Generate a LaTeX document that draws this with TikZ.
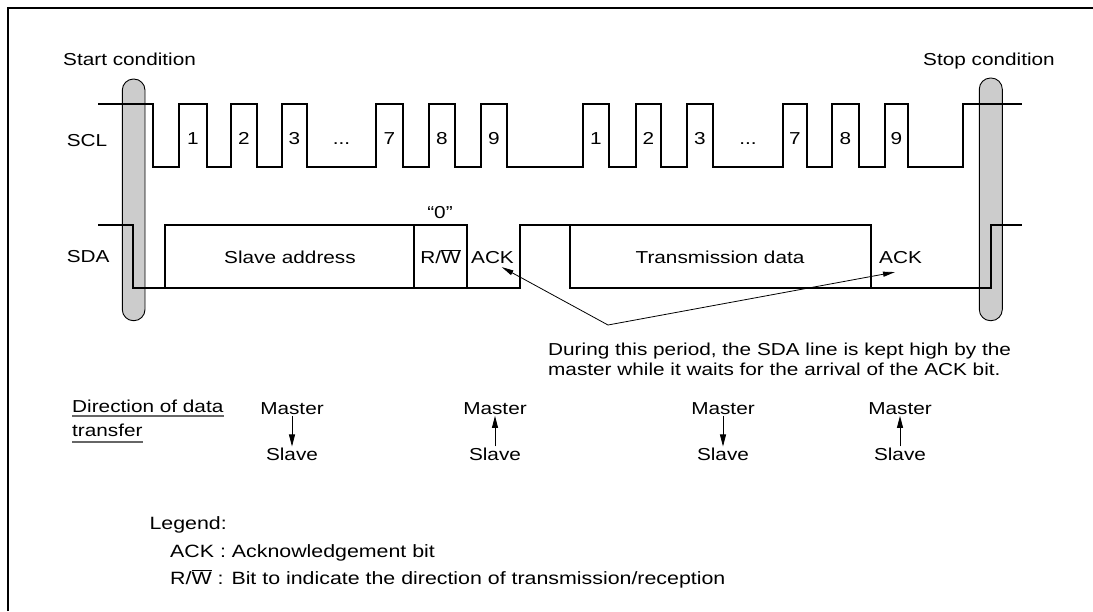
\documentclass[tikz,border=0pt]{standalone}
\usepackage{fontspec}
\setmainfont[FakeStretch=1.2]{Liberation Sans}
\usetikzlibrary{arrows.meta}

% R/W with a bar over the W
\newcommand\barW{$\overline{\mbox{W}}$}
% dots between clock pulses
\newcommand\clkdots{...}

\begin{document}
\begin{tikzpicture}[x=1pt,y=-1pt,
  every node/.style={font=\fontsize{17.3}{20}\selectfont, inner sep=0pt},
  wave/.style={line width=2.3pt, line join=miter},
  holdbar/.style={draw=black, line width=0.9pt, fill=black!20, rounded corners=11.2pt},
  ptr/.style={line width=0.8pt, -{Triangle[length=12pt,width=5pt]}},
  dirarrow/.style={line width=0.8pt, -{Triangle[length=12pt,width=6pt]}},
  ul/.style={line width=1.6pt, draw=black!60},
  lbl/.style={anchor=base},
  lblw/.style={anchor=base west},
  legtext/.style={anchor=base west, font=\fontsize{17.8}{20}\selectfont}]

\useasboundingbox (0,0) rectangle (1093,611);

% outer frame
\draw[line width=2.6pt] (8,611) -- (8,8) -- (1093,8);

% start / stop condition bars
\draw[holdbar] (122.3,79) rectangle (145,320.7);
\draw[holdbar] (979.3,78) rectangle (1002.3,320.7);

% SCL clock
\draw[wave] (98,104) -- (153,104) -- (153,167)
  -- (179,167) -- (179,104) -- (207,104) -- (207,167)
  -- (231,167) -- (231,104) -- (257,104) -- (257,167)
  -- (282,167) -- (282,104) -- (307,104) -- (307,167)
  -- (376,167) -- (376,104) -- (403,104) -- (403,167)
  -- (429,167) -- (429,104) -- (455,104) -- (455,167)
  -- (481,167) -- (481,104) -- (507,104) -- (507,167)
  -- (583,167) -- (583,104) -- (609,104) -- (609,167)
  -- (636,167) -- (636,104) -- (661,104) -- (661,167)
  -- (687,167) -- (687,104) -- (713,104) -- (713,167)
  -- (783,167) -- (783,104) -- (807,104) -- (807,167)
  -- (832,167) -- (832,104) -- (859,104) -- (859,167)
  -- (885,167) -- (885,104) -- (908,104) -- (908,167)
  -- (963,167) -- (963,104) -- (1022,104);

% SDA data line
\draw[wave] (98,225) -- (133,225) -- (133,288) -- (520,288) -- (520,225)
  -- (871,225) -- (871,288) -- (990.7,288) -- (990.7,225) -- (1022,225);
\draw[wave] (165,288) -- (165,225) -- (467,225) -- (467,288);
\draw[wave] (414,225) -- (414,288);
\draw[wave] (570,225) -- (570,288) -- (871,288);

% clock pulse numbers
\foreach \x/\t [count=\i] in {193/1,244/2,294.5/3,341.5/\clkdots,389.5/7,442/8,494/9,
                              596/1,648.5/2,700/3,748/\clkdots,795/7,845.5/8,896.5/9}
  \node[lbl] (clk\i) at (\x,144) {\t};

% headings and signal names
\node[lblw] (start) at (63,65) {Start condition};
\node[anchor=base east] (stop) at (1055,65) {Stop condition};
\node[lblw] (scl) at (66.7,146.7) {SCL};
\node[lblw] (sda) at (66.7,262.7) {SDA};

% fields on SDA
\node[lbl] (addr) at (290,263) {Slave address};
\node[lbl] (rw) at (440.5,263) {R/\barW};
\node[lbl] (zero) at (440,218) {“0”};
\node[lbl] (ack1) at (492.5,263) {ACK};
\node[lbl] (data) at (720,263) {Transmission data};
\node[lbl] (ack2) at (900.5,263) {ACK};

% note on the ACK periods
\coordinate (fork) at (608,325);
\draw[ptr] (fork) -- ([shift={(9.2,3.7)}]ack1.south);
\draw[ptr] (fork) -- ([shift={(-5.5,8.7)}]ack2.south);
\node[lblw] (note1) at (548,355) {During this period, the SDA line is kept high by the};
\node[lblw] (note2) at (548,375) {master while it waits for the arrival of the ACK bit.};

% direction of data transfer
\node[lblw] (dir1) at (72,412) {Direction of data};
\node[lblw] (dir2) at (72,436) {transfer};
\draw[ul] ([shift={(0,3.5)}]dir1.south west) -- ([shift={(0,3.5)}]dir1.south east);
\draw[ul] ([shift={(0,5.5)}]dir2.south west) -- ([shift={(0,5.5)}]dir2.south east);

\foreach \x/\d [count=\i] in {292/down,495/up,723/down,900/up}{
  \node[lbl, inner sep=1.5pt] (m\i) at (\x,414) {Master};
  \node[lbl, inner sep=1.5pt] (s\i) at (\x,460.7) {Slave};
}
\draw[dirarrow] (m1) -- (s1);
\draw[dirarrow] (s2) -- (m2);
\draw[dirarrow] (m3) -- (s3);
\draw[dirarrow] (s4) -- (m4);

% legend
\node[legtext] (leg) at (149.3,529) {Legend:};
\node[legtext] (legack) at (170,557) {ACK : Acknowledgement bit};
\node[legtext] (legrw) at (170,584) {R/\barW\ : Bit to indicate the direction of transmission/reception};

\end{tikzpicture}
\end{document}
